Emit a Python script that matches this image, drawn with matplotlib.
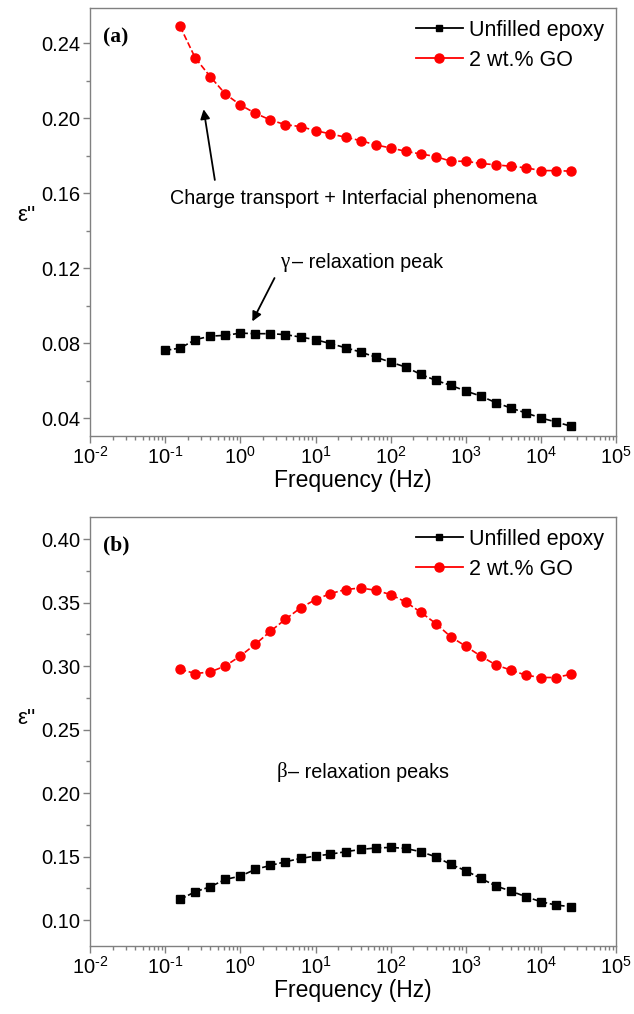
import matplotlib
matplotlib.use("Agg")
import matplotlib.pyplot as plt
from matplotlib.lines import Line2D
from matplotlib.ticker import (MultipleLocator, FixedLocator, LogLocator,
                               NullFormatter, FuncFormatter)
import numpy as np

plt.rcParams['font.family'] = ['Liberation Sans', 'DejaVu Sans']
plt.rcParams['mathtext.fontset'] = 'custom'
plt.rcParams['mathtext.rm'] = 'Liberation Sans'
plt.rcParams['mathtext.default'] = 'regular'
plt.rcParams['axes.unicode_minus'] = False

# ---------- data ----------
freq = [0.1, 0.158, 0.251, 0.398, 0.631, 1.0, 1.58, 2.51, 3.98, 6.31,
        10.0, 15.8, 25.1, 39.8, 63.1, 100.0, 158.0, 251.0, 398.0, 631.0,
        1000.0, 1580.0, 2510.0, 3980.0, 6310.0, 10000.0, 15800.0, 25100.0]

# panel (a): gamma region
a_epoxy = [0.0761, 0.0773, 0.0818, 0.0837, 0.0841, 0.0853, 0.0850, 0.0850,
           0.0845, 0.0832, 0.0818, 0.0797, 0.0775, 0.0752, 0.0725, 0.0698,
           0.0672, 0.0633, 0.0601, 0.0574, 0.0544, 0.0517, 0.0482, 0.0453,
           0.0427, 0.0400, 0.0379, 0.0356]
a_go = [0.2489, 0.2321, 0.2221, 0.2129, 0.2070, 0.2026, 0.1990, 0.1965,
        0.1955, 0.1933, 0.1916, 0.1898, 0.1880, 0.1857, 0.1841, 0.1823,
        0.1809, 0.1795, 0.1770, 0.1770, 0.1758, 0.1751, 0.1743, 0.1735,
        0.1720, 0.1720, 0.1717]

# panel (b): beta region
b_epoxy = [0.1163, 0.1223, 0.1262, 0.1320, 0.1346, 0.1399, 0.1430, 0.1459,
           0.1485, 0.1504, 0.1519, 0.1538, 0.1556, 0.1567, 0.1572, 0.1564,
           0.1538, 0.1498, 0.1438, 0.1388, 0.1328, 0.1268, 0.1228, 0.1183,
           0.1144, 0.1118, 0.1105]
b_go = [0.2975, 0.2941, 0.2954, 0.3001, 0.3080, 0.3172, 0.3274, 0.3369,
        0.3458, 0.3524, 0.3571, 0.3603, 0.3615, 0.3597, 0.3563, 0.3505,
        0.3424, 0.3335, 0.3230, 0.3156, 0.3078, 0.3009, 0.2968, 0.2928,
        0.2910, 0.2910, 0.2936]

decades = [1e-2, 1e-1, 1e0, 1e1, 1e2, 1e3, 1e4, 1e5]
labels = ['Unfilled epoxy', '2 wt.% GO']

fig = plt.figure(figsize=(6.34, 10.14), dpi=100)
ax1 = fig.add_axes([0.142, 0.570, 0.830, 0.422])
ax2 = fig.add_axes([0.142, 0.067, 0.830, 0.423])

grey = '#808080'


def pow_label(v, pos):
    e = int(round(np.log10(v)))
    s = str(e).replace('-', '\u2010')
    return r'$10^{%s}$' % s


def style(ax, ylim, major, minor, ylab_y):
    ax.set_xscale('log')
    ax.set_xlim(1e-2, 1e5)
    ax.set_ylim(*ylim)
    ax.yaxis.set_major_locator(MultipleLocator(major))
    ax.yaxis.set_minor_locator(MultipleLocator(minor))
    ax.yaxis.set_major_formatter(plt.FormatStrFormatter('%.2f'))
    ax.xaxis.set_major_locator(FixedLocator(decades))
    ax.xaxis.set_major_formatter(FuncFormatter(pow_label))
    ax.xaxis.set_minor_locator(LogLocator(base=10, subs=range(2, 10), numticks=20))
    ax.xaxis.set_minor_formatter(NullFormatter())
    for s in ax.spines.values():
        s.set_color(grey)
        s.set_linewidth(1.0)
    ax.tick_params(which='both', direction='out', color=grey, labelsize=14.5,
                   labelcolor='black', top=False, right=False)
    ax.tick_params(which='major', length=5, width=1, pad=2)
    ax.tick_params(which='minor', length=3, width=1)
    ax.set_xlabel('Frequency (Hz)', fontsize=16.5, labelpad=1)
    ax.set_ylabel("ε''", fontsize=16, rotation=0, va='center', ha='center')
    ax.yaxis.set_label_coords(-0.12, ylab_y)


style(ax1, (0.0304, 0.2587), 0.04, 0.02, 0.515)
style(ax2, (0.0795, 0.4173), 0.05, 0.025, 0.53)

mk = dict(linewidth=1.2, linestyle='--')
ax1.plot(freq, a_epoxy, color='black', marker='s', markersize=6, **mk)
ax1.plot(freq[1:], a_go, color='red', marker='o', markersize=6.5, **mk)
ax2.plot(freq[1:], b_epoxy, color='black', marker='s', markersize=6, **mk)
ax2.plot(freq[1:], b_go, color='red', marker='o', markersize=6.5, **mk)

handles = [Line2D([], [], color='black', marker='s', markersize=5, lw=1.3),
           Line2D([], [], color='red', marker='o', markersize=6.5, lw=1.3)]
for ax in (ax1, ax2):
    ax.legend(handles, labels, loc='upper right', frameon=False, fontsize=15.5,
              handlelength=2.2, handletextpad=0.3, labelspacing=0.4,
              borderaxespad=0.25, borderpad=0.3)

ax1.text(0.025, 0.932, '(a)', transform=ax1.transAxes, fontsize=15.5,
         fontweight='bold', family='Liberation Serif', va='center')
ax2.text(0.025, 0.935, '(b)', transform=ax2.transAxes, fontsize=15.5,
         fontweight='bold', family='Liberation Serif', va='center')

# annotations panel (a)
ax1.annotate('', xy=(0.215, 0.77), xytext=(0.238, 0.592), xycoords='axes fraction',
             arrowprops=dict(arrowstyle='-|>', color='black', lw=1.3,
                             mutation_scale=14))
ax1.text(0.50, 0.555, 'Charge transport + Interfacial phenomena',
         transform=ax1.transAxes, ha='center', va='center', fontsize=14.2)
ax1.annotate('', xy=(0.306, 0.262), xytext=(0.353, 0.375), xycoords='axes fraction',
             arrowprops=dict(arrowstyle='-|>', color='black', lw=1.3,
                             mutation_scale=14))
ax1.text(0.362, 0.405, 'γ', transform=ax1.transAxes, ha='left', va='center',
         fontsize=15, family='Liberation Serif')
ax1.text(0.383, 0.405, '– relaxation peak', transform=ax1.transAxes,
         ha='left', va='center', fontsize=14.2)

# annotation panel (b)
ax2.text(0.355, 0.405, 'β', transform=ax2.transAxes, ha='left', va='center',
         fontsize=15, family='Liberation Serif')
ax2.text(0.377, 0.405, '– relaxation peaks', transform=ax2.transAxes,
         ha='left', va='center', fontsize=14.2)

fig.savefig('out.png', dpi=100)
